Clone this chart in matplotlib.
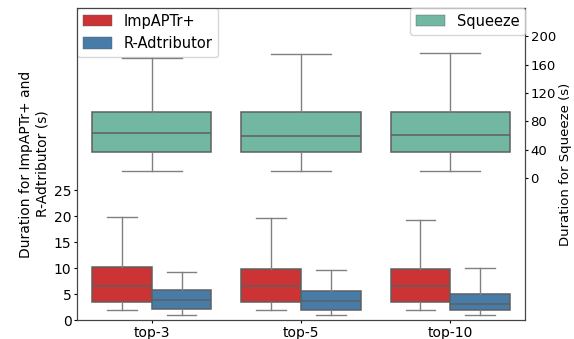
import matplotlib
matplotlib.use("Agg")
import matplotlib.pyplot as plt
from matplotlib.patches import Patch

categories = ["top-3", "top-5", "top-10"]

imp_whislo = [2.0, 2.0, 2.0]
imp_q1 = [3.5, 3.45, 3.45]
imp_med = [6.6, 6.5, 6.5]
imp_q3 = [10.1, 9.9, 9.9]
imp_whishi = [19.9, 19.6, 19.2]

radt_whislo = [1.05, 1.05, 1.05]
radt_q1 = [2.1, 2.0, 1.85]
radt_med = [3.9, 3.6, 3.1]
radt_q3 = [5.8, 5.6, 5.05]
radt_whishi = [9.25, 9.6, 10.0]

sq_whislo = [10.3, 10.3, 10.3]
sq_q1 = [36.7, 36.7, 37.5]
sq_med = [63.5, 59.7, 61.0]
sq_q3 = [93.0, 93.0, 93.0]
sq_whishi = [169.5, 175.0, 176.5]

left_ticks = [0, 5, 10, 15, 20, 25]
right_ticks = [0, 40, 80, 120, 160, 200]

c_imp = "#cb3335"
c_radt = "#477ca8"
c_sq = "#72b7a1"
line_c = "#5f5f5f"


def stats(lo, q1, med, q3, hi):
    return [dict(whislo=a, q1=b, med=c, q3=d, whishi=e, fliers=[])
            for a, b, c, d, e in zip(lo, q1, med, q3, hi)]


def draw(ax, st, pos, width, color):
    ax.bxp(st, positions=pos, widths=width, patch_artist=True,
           showfliers=False, manage_ticks=False,
           boxprops=dict(facecolor=color, edgecolor=line_c, linewidth=1.1),
           medianprops=dict(color=line_c, linewidth=1.1),
           whiskerprops=dict(color="#808080", linewidth=1.0),
           capprops=dict(color="#808080", linewidth=1.0),
           capwidths=width / 2)


fig = plt.figure(figsize=(5.74, 3.39), dpi=100)
ax = fig.add_axes([77 / 574, 19 / 339, 448 / 574, 312 / 339])
ax2 = ax.twinx()

x = list(range(len(categories)))
draw(ax, stats(imp_whislo, imp_q1, imp_med, imp_q3, imp_whishi),
     [i - 0.2 for i in x], 0.4, c_imp)
draw(ax, stats(radt_whislo, radt_q1, radt_med, radt_q3, radt_whishi),
     [i + 0.2 for i in x], 0.4, c_radt)
draw(ax2, stats(sq_whislo, sq_q1, sq_med, sq_q3, sq_whishi),
     x, 0.8, c_sq)

for s in list(ax.spines.values()) + list(ax2.spines.values()):
    s.set_color("#444444")

ax.set_xlim(-0.5, 2.5)
ax.set_ylim(0, 60)
ax2.set_ylim(-200, 240)
ax.set_yticks(left_ticks)
ax2.set_yticks(right_ticks)
ax.set_xticks(x)
ax.set_xticklabels(categories, fontsize=10)
ax.tick_params(axis="both", labelsize=10, length=2.5, pad=1.5)
ax2.tick_params(axis="y", labelsize=9.5, length=2.5, pad=1.5)

ax.set_ylabel("Duration for ImpAPTr+ and\nR-Adtributor (s)", fontsize=10,
              labelpad=3)
ax2.set_ylabel("Duration for Squeeze (s)", fontsize=9.5, labelpad=2)

h1 = [Patch(facecolor=c_imp, edgecolor=line_c, linewidth=0.3),
      Patch(facecolor=c_radt, edgecolor=line_c, linewidth=0.3)]
ax.legend(h1, ["ImpAPTr+", "R-Adtributor"], loc="upper left",
          borderaxespad=0, fontsize=10.5, handleheight=0.8)
h2 = [Patch(facecolor=c_sq, edgecolor=line_c, linewidth=0.3)]
ax2.legend(h2, ["Squeeze"], loc="upper right", borderaxespad=0,
           fontsize=10.5, handleheight=0.8)

fig.savefig("out.png", dpi=100)
